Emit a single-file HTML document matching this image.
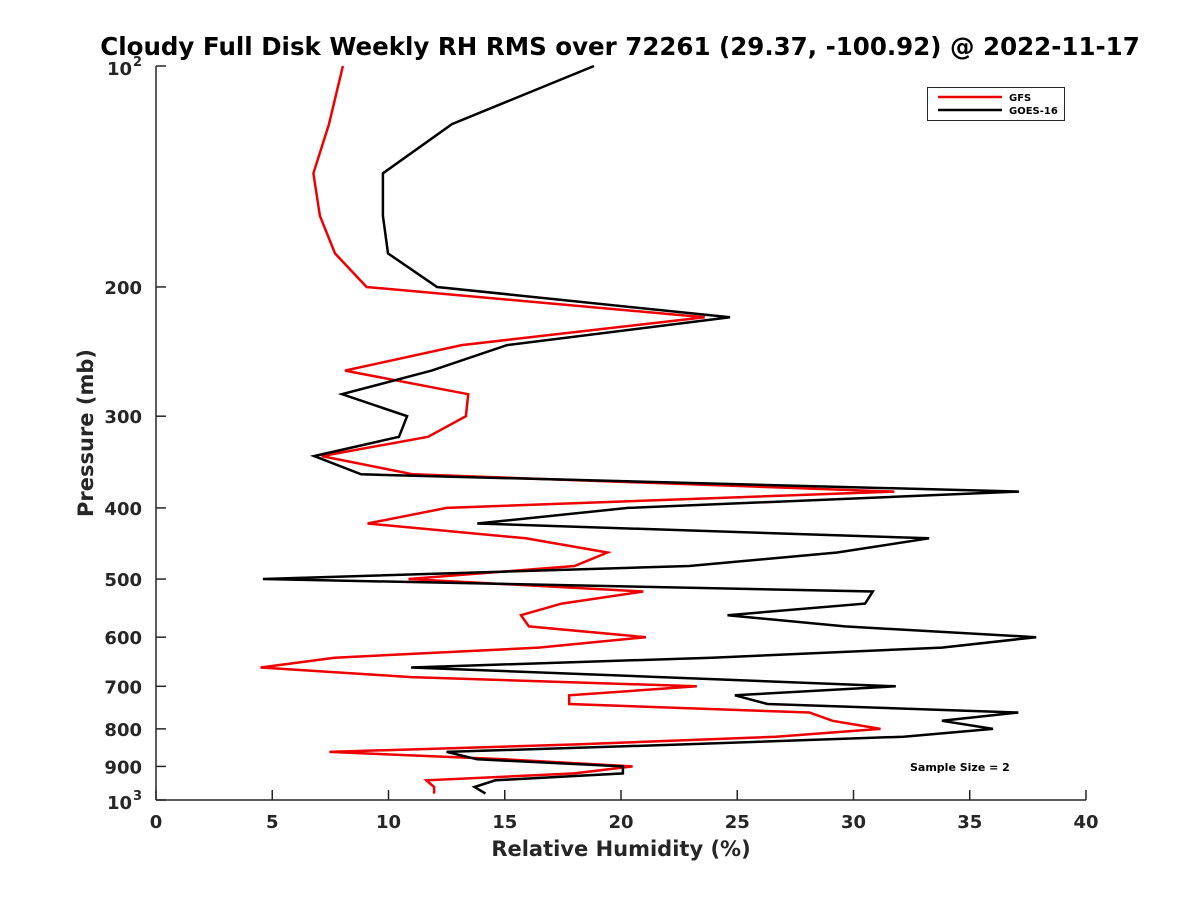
<!DOCTYPE html>
<html><head><meta charset="utf-8"><style>
body{margin:0;background:#fff;}
svg{display:block;font-family:"DejaVu Sans","Liberation Sans",sans-serif;}
</style></head><body>
<svg id="chart" width="1200" height="900" viewBox="0 0 1200 900" xmlns="http://www.w3.org/2000/svg">
<rect width="1200" height="900" fill="#fff"/>
<text x="620" y="55" text-anchor="middle" font-size="24.5" font-weight="bold" fill="#000">Cloudy Full Disk Weekly RH RMS over 72261 (29.37, -100.92) @ 2022-11-17</text>
<g id="axes"></g>
<g id="series"></g>
<text x="621" y="856" text-anchor="middle" font-size="21" font-weight="bold" fill="#262626">Relative Humidity (%)</text>
<text transform="translate(93,433) rotate(-90)" text-anchor="middle" font-size="21" font-weight="bold" fill="#262626">Pressure (mb)</text>
<g>
<rect x="927.5" y="87.5" width="137" height="33" fill="#fff" stroke="#262626" stroke-width="1"/>
<line x1="938" y1="97" x2="1002" y2="97" stroke="#e00" stroke-width="2.5"/>
<text x="1009" y="101" font-size="10" font-weight="bold">GFS</text>
<line x1="938" y1="110" x2="1002" y2="110" stroke="#000" stroke-width="2.5"/>
<text x="1009" y="114" font-size="10" font-weight="bold">GOES-16</text>
</g>
<text x="910" y="771" font-size="11" font-weight="bold">Sample Size = 2</text>
</svg>
<script>
const pressure=[100,120,140,160,180,200,220,240,260,280,300,320,340,360,380,400,420,440,460,480,500,520,540,560,580,600,620,640,660,680,700,720,740,760,780,800,820,840,860,880,900,920,940,960,980];
const goes16=[18.84,12.73,9.76,9.76,9.98,12.09,24.69,15.10,11.86,8.0,10.80,10.45,6.80,8.82,37.12,20.30,13.82,33.25,29.3,22.93,4.6,30.83,30.5,24.58,29.63,37.86,33.8,23.9,10.97,21.7,31.82,24.9,26.3,37.09,33.8,36.0,32.15,22.7,12.5,13.82,20.08,20.08,14.6,13.7,14.17];
const gfs=[8.04,7.44,6.77,7.05,7.7,9.06,23.6,13.15,8.13,13.43,13.33,11.7,7.13,11.05,31.76,12.5,9.1,15.9,19.42,18.0,10.86,20.96,17.45,15.7,16.04,21.07,16.46,7.68,4.5,10.97,23.26,17.77,17.77,28.1,29.1,31.16,26.66,18.1,7.46,15.0,20.5,18.0,11.63,11.96,11.96];
const xTicks=[0,5,10,15,20,25,30,35,40];
const yTicks=[100,200,300,400,500,600,700,800,900,1000];
const yTickLabels=["10^2","200","300","400","500","600","700","800","900","10^3"];

const X0=156,X1=1086,Y0=66,Y1=800;
const xs=v=>X0+(v-0)/40*(X1-X0);
const ys=p=>Y0+Math.log10(p/100)*(Y1-Y0);
const NS="http://www.w3.org/2000/svg";
const axes=document.getElementById('axes');
function mk(tag,attrs,parent){const e=document.createElementNS(NS,tag);for(const k in attrs)e.setAttribute(k,attrs[k]);parent.appendChild(e);return e;}
const ax=mk('line',{x1:X0,y1:Y1,x2:X1,y2:Y1,stroke:'#262626','stroke-width':1.5},axes);


const ay=mk('line',{x1:X0,y1:Y0,x2:X0,y2:Y1,stroke:'#262626','stroke-width':1.5},axes);


xTicks.forEach(v=>{
  const t=mk('line',{x1:xs(v),y1:Y1,x2:xs(v),y2:Y1-10,stroke:'#262626','stroke-width':1.5},axes);
  
  
  const l=mk('text',{x:xs(v),y:Y1+28,'text-anchor':'middle','font-size':18,'font-weight':'bold',fill:'#262626'},axes);
  l.textContent=v;
  
  
});
yTicks.forEach((p,i)=>{
  const t=mk('line',{x1:X0,y1:ys(p),x2:X0+10,y2:ys(p),stroke:'#262626','stroke-width':1.5},axes);
  
  
  const lab=yTickLabels[i];
  if(lab.indexOf('^')>=0){
    const parts=lab.split('^');
    const l=mk('text',{x:X0-24,y:ys(p)+9,'text-anchor':'end','font-size':18,'font-weight':'bold',fill:'#262626'},axes);
    l.textContent=parts[0];
    
    
    const s=mk('text',{x:X0-23,y:ys(p)+0,'text-anchor':'start','font-size':13,'font-weight':'bold',fill:'#262626'},axes);
    s.textContent=parts[1];
    
    
  } else {
    const l=mk('text',{x:X0-14,y:ys(p)+7,'text-anchor':'end','font-size':18,'font-weight':'bold',fill:'#262626'},axes);
    l.textContent=lab;
    
    
  }
});
const sg=document.getElementById('series');
function line(vals,color,name){
  const d=vals.map((v,i)=>(i?'L':'M')+xs(v).toFixed(1)+','+ys(pressure[i]).toFixed(1)).join(' ');
  const p=mk('path',{d:d,fill:'none',stroke:color,'stroke-width':2.5,'stroke-linejoin':'miter'},sg);
  
  
}
line(gfs,'#e00','gfs-line');
line(goes16,'#000','goes16-line');
</script>
</body></html>
